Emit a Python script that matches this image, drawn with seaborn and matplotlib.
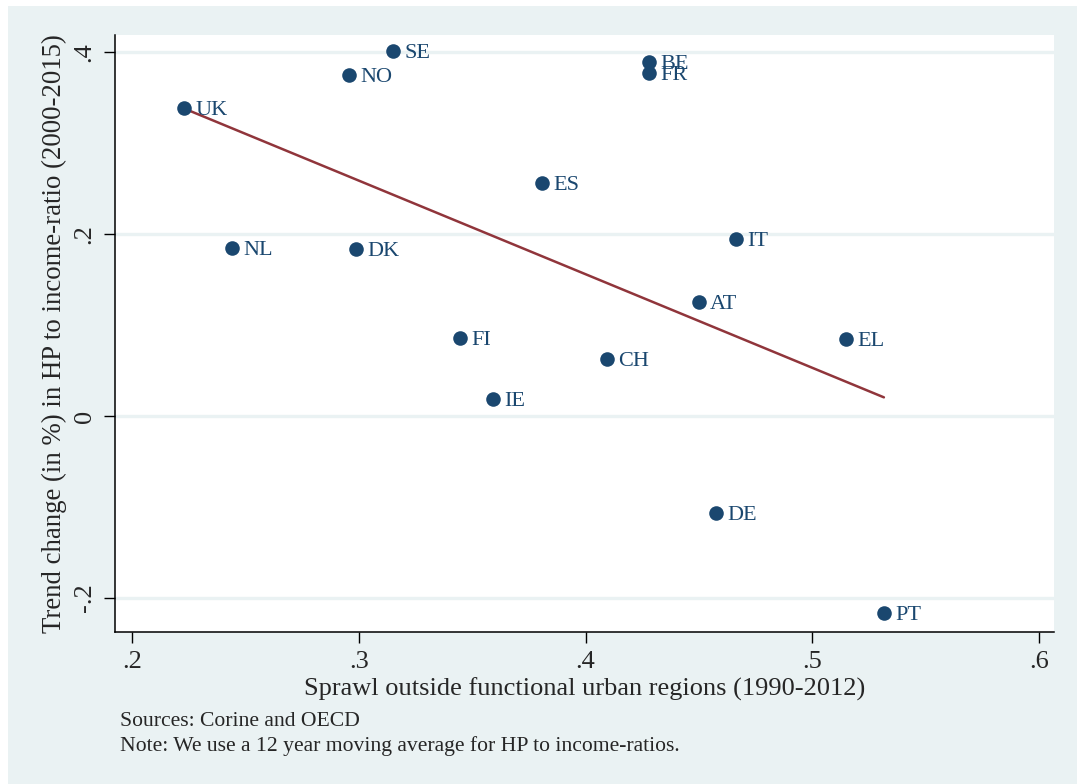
"""Sprawl vs trend change in house-price-to-income ratio, Stata-like scatter with fit line."""

import matplotlib.pyplot as plt
import matplotlib.patches as mpatches
import pandas as pd
import seaborn as sns

# country codes and values
countries = ["UK", "SE", "NO", "BE", "FR", "ES", "NL", "DK", "IT",
             "AT", "EL", "CH", "FI", "IE", "DE", "PT"]
sprawl = [0.2229, 0.3151, 0.2957, 0.4280, 0.4280, 0.3808, 0.2441, 0.2988,
          0.4663, 0.4500, 0.5148, 0.4094, 0.3446, 0.3592, 0.4575, 0.5316]
trend_change = [0.3385, 0.4010, 0.3750, 0.3890, 0.3770, 0.2560, 0.1850, 0.1835,
                0.1945, 0.1253, 0.0846, 0.0626, 0.0857, 0.0187, -0.1066, -0.2165]

x_ticks = [0.2, 0.3, 0.4, 0.5, 0.6]
x_tick_labels = [".2", ".3", ".4", ".5", ".6"]
y_ticks = [-0.2, 0.0, 0.2, 0.4]
y_tick_labels = ["-.2", "0", ".2", ".4"]

df = pd.DataFrame({"country": countries, "sprawl": sprawl, "trend": trend_change})

BG = "#eaf2f3"
NAVY = "#1a476f"
MAROON = "#90353b"

sns.set_style("white")
plt.rcParams["font.family"] = ["Liberation Serif", "DejaVu Serif"]

fig = plt.figure(figsize=(10.77, 7.84), dpi=100, facecolor="white")
# light Stata-style background panel
fig.patches.append(mpatches.Rectangle((8 / 1077, 0), 1 - 8 / 1077, 1 - 6 / 784,
                                      transform=fig.transFigure, facecolor=BG,
                                      edgecolor="none", zorder=-10))

ax = fig.add_axes([0.1068, 0.1939, 0.8718, 0.7615])
ax.set_facecolor("white")

# grid lines
for yt in y_ticks:
    ax.axhline(yt, color=BG, lw=2.4, zorder=0)

sns.regplot(data=df, x="sprawl", y="trend", ci=None, scatter=False, ax=ax,
            line_kws={"color": MAROON, "lw": 1.8, "zorder": 2})
sns.scatterplot(data=df, x="sprawl", y="trend", ax=ax, color=NAVY, s=110,
                edgecolor=NAVY, linewidth=0, zorder=3, legend=False)

for _, r in df.iterrows():
    ax.annotate(r["country"], (r["sprawl"], r["trend"]), xytext=(8, -2),
                textcoords="offset points", ha="left", va="center",
                fontsize=16, color=NAVY)

ax.set_xlim(0.1925, 0.6066)
ax.set_ylim(-0.2374, 0.4187)
ax.set_xticks(x_ticks)
ax.set_xticklabels(x_tick_labels, fontsize=19)
ax.set_yticks(y_ticks)
ax.set_yticklabels(y_tick_labels, fontsize=19, rotation=90, va="center")
ax.tick_params(axis="both", direction="out", length=8, width=1, color="black",
               left=True, bottom=True, pad=6)

sns.despine(ax=ax)
for side in ["left", "bottom"]:
    ax.spines[side].set_color("black")
    ax.spines[side].set_linewidth(1.1)

ax.set_xlabel("Sprawl outside functional urban regions (1990-2012)", fontsize=19, labelpad=3)
ax.set_ylabel("Trend change (in %) in HP to income-ratio (2000-2015)", fontsize=19.3, labelpad=5)

fig.text(120 / 1077, 1 - 722 / 784, "Sources: Corine and OECD", fontsize=15.6, va="center")
fig.text(120 / 1077, 1 - 746 / 784,
         "Note: We use a 12 year moving average for HP to income-ratios.",
         fontsize=15.6, va="center")

plt.savefig("out.png", dpi=100)
plt.close()
